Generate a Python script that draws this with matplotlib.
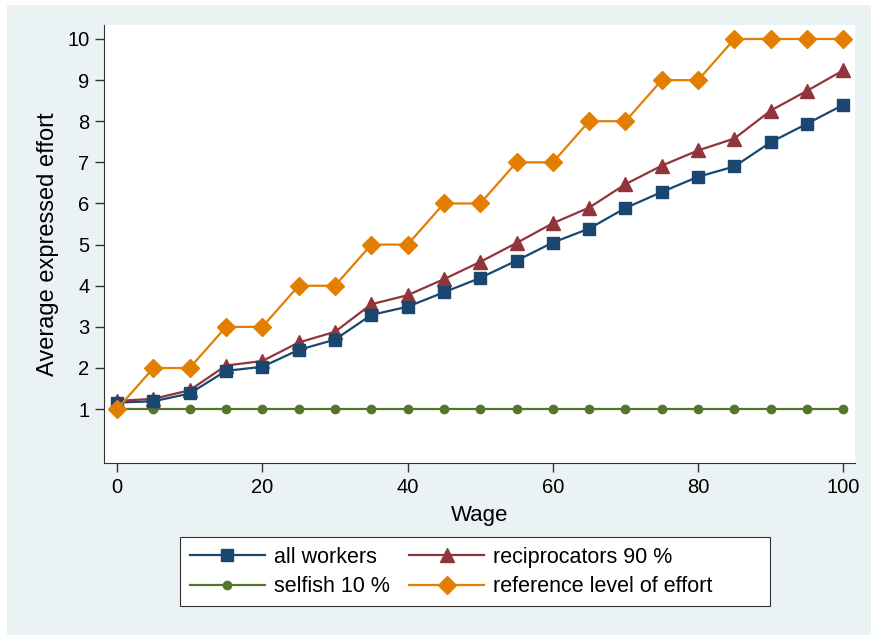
import numpy as np
import matplotlib
matplotlib.use('Agg')
import matplotlib.pyplot as plt
from matplotlib.patches import Rectangle

plt.rcParams['font.family'] = ['Liberation Sans', 'DejaVu Sans']

# Data
wage = [0, 5, 10, 15, 20, 25, 30, 35, 40, 45, 50, 55, 60, 65, 70, 75, 80, 85, 90, 95, 100]
all_workers = [1.16, 1.19, 1.38, 1.93, 2.03, 2.44, 2.69, 3.29, 3.49, 3.84, 4.19,
               4.61, 5.05, 5.39, 5.89, 6.28, 6.65, 6.90, 7.49, 7.94, 8.40]
reciprocators = [1.20, 1.25, 1.46, 2.06, 2.17, 2.62, 2.88, 3.55, 3.77, 4.16, 4.58,
                 5.04, 5.52, 5.90, 6.47, 6.92, 7.29, 7.58, 8.26, 8.74, 9.24]
selfish = [1] * 21
reference = [1, 2, 2, 3, 3, 4, 4, 5, 5, 6, 6, 7, 7, 8, 8, 9, 9, 10, 10, 10, 10]

bg = '#eaf2f3'
fig = plt.figure(figsize=(8.71, 6.35), dpi=100, facecolor=bg)
# white strips at top/left (screenshot border)
fig.patches.append(Rectangle((0, 1 - 5 / 635), 1, 5 / 635, transform=fig.transFigure,
                             facecolor='white', edgecolor='none', zorder=-1))
fig.patches.append(Rectangle((0, 0), 7 / 871, 1, transform=fig.transFigure,
                             facecolor='white', edgecolor='none', zorder=-1))

ax = fig.add_axes([104 / 871, 1 - 463 / 635, (855 - 104) / 871, (463 - 25) / 635])
ax.set_facecolor('white')

ax.plot(wage, all_workers, color='#1a476f', lw=1.6, marker='s', ms=8.5, label='all workers', zorder=4)
ax.plot(wage, reciprocators, color='#90353b', lw=1.6, marker='^', ms=9.5, label='reciprocators 90 %', zorder=3)
ax.plot(wage, selfish, color='#55752f', lw=1.6, marker='o', ms=6, label='selfish 10 %', zorder=2)
ax.plot(wage, reference, color='#e37e00', lw=1.6, marker='D', ms=9, label='reference level of effort', zorder=5)

ax.set_xlim(-1.8, 101.6)
ax.set_ylim(-0.31, 10.34)
ax.set_xticks([0, 20, 40, 60, 80, 100])
ax.set_yticks(range(1, 11))
ax.tick_params(labelsize=14.5, length=6.5, width=1, pad=4, color='#333333', labelcolor='black')
for s in ['top', 'right']:
    ax.spines[s].set_visible(False)
for s in ['left', 'bottom']:
    ax.spines[s].set_color('#333333')
ax.set_xlabel('Wage', fontsize=16, labelpad=6)
ax.set_ylabel('Average expressed effort', fontsize=17, labelpad=6)

# legend box (wider than matplotlib's auto frame, like the original)
fig.patches.append(Rectangle((180 / 871, 1 - 606 / 635), (770 - 180) / 871, 69 / 635,
                             transform=fig.transFigure, facecolor='white',
                             edgecolor='#333333', linewidth=0.8, zorder=0))

h, l = ax.get_legend_handles_labels()
order = [0, 2, 1, 3]
leg = fig.legend([h[i] for i in order], [l[i] for i in order], ncol=2,
                 loc='upper left', bbox_to_anchor=(180 / 871, 1 - 537 / 635),
                 fontsize=15.5, frameon=False,
                 handlelength=3.5, columnspacing=0.9, handletextpad=0.4,
                 labelspacing=0.4, borderpad=0.45, borderaxespad=0)

fig.savefig('out.png', dpi=100, facecolor=bg)
